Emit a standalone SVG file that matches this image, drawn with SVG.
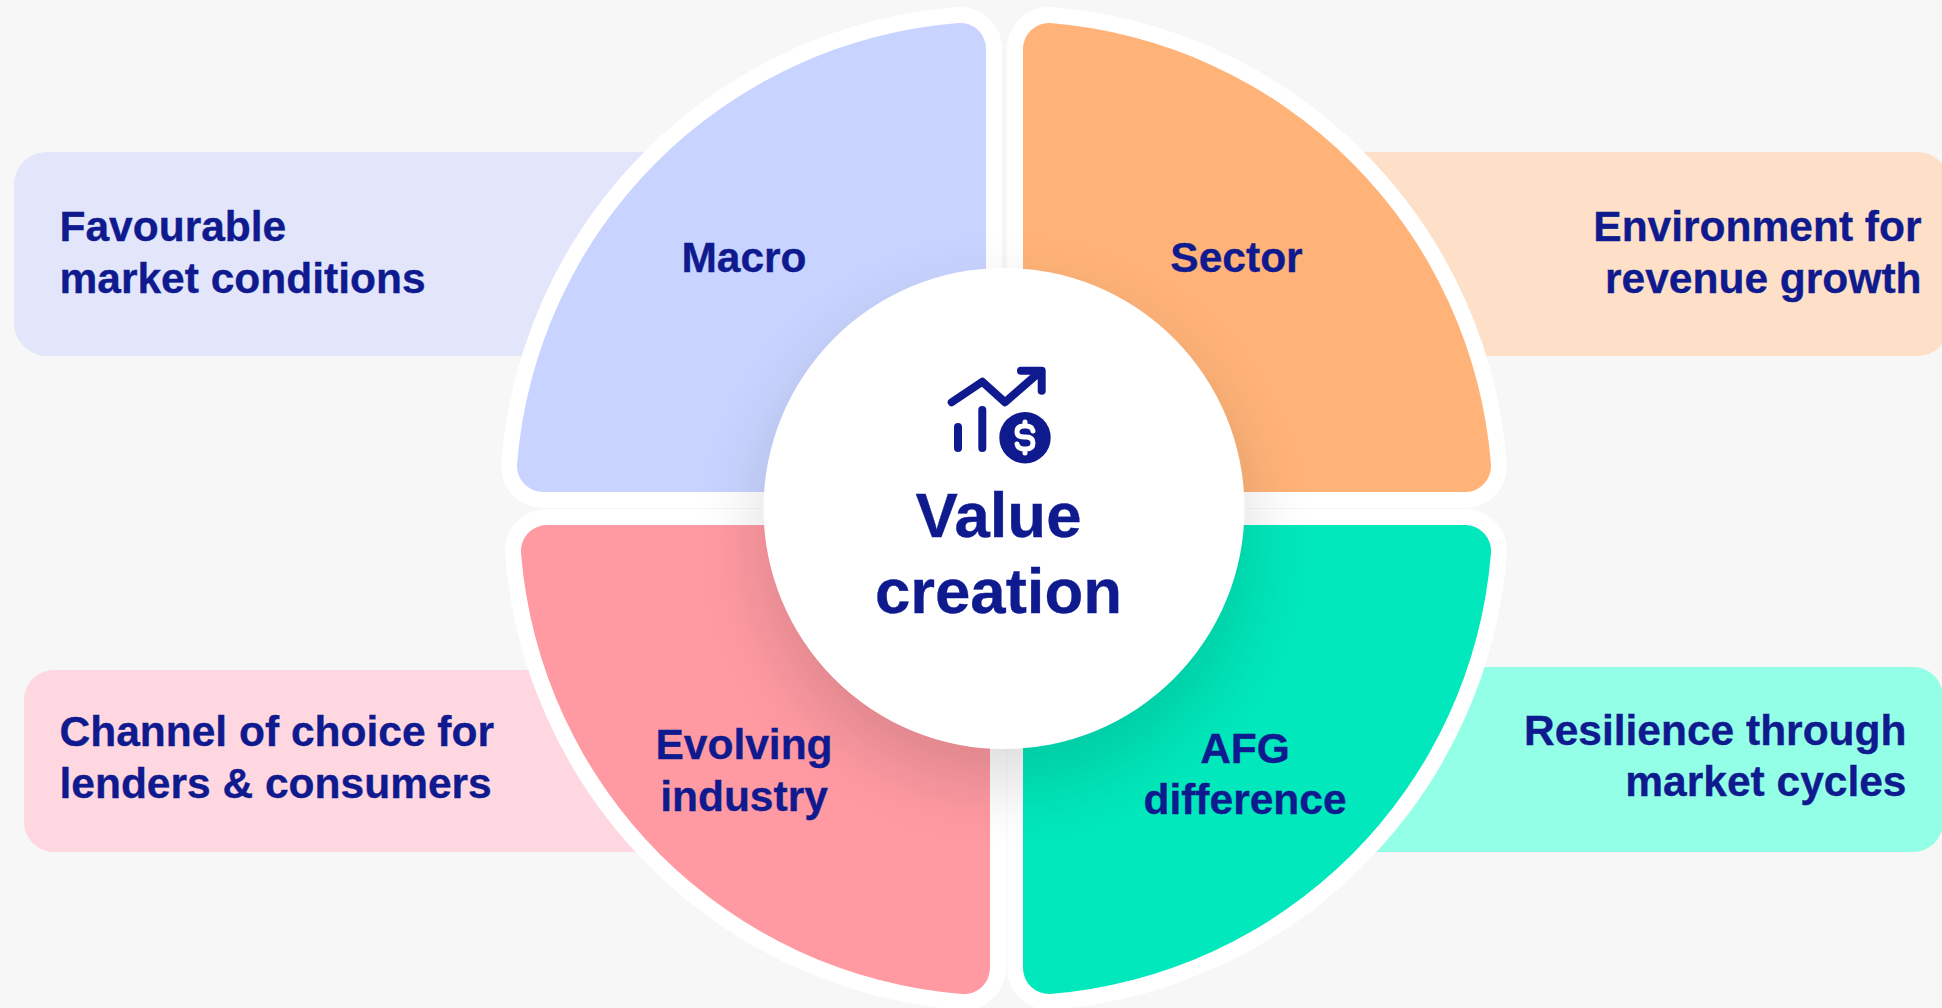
<svg xmlns="http://www.w3.org/2000/svg" width="1942" height="1008" viewBox="0 0 1942 1008">
<style>
text{font-family:"Liberation Sans",Arial,sans-serif;font-weight:700;fill:#0f1a8f;stroke:#0f1a8f;stroke-width:.35;font-size:42.5px}
.m{text-anchor:middle}
.e{text-anchor:end}
.big{font-size:63.5px}
.seg{stroke:#fff;stroke-width:32;stroke-linejoin:round;paint-order:stroke}
.ic{fill:none;stroke:#0f1a8f;stroke-width:8;stroke-linecap:round;stroke-linejoin:round}
</style>
<defs><filter id="blur" x="-40%" y="-40%" width="180%" height="180%"><feGaussianBlur stdDeviation="35"/></filter></defs>
<rect width="1942" height="1008" fill="#f7f7f7"/>
<g id="box-favourable"><rect x="14" y="152" width="800" height="204" rx="33" fill="#e3e5fa"/></g>
<g id="box-environment"><rect x="1200" y="152" width="748" height="204" rx="30" fill="#fee0c8"/></g>
<g id="box-channel"><rect x="24" y="670" width="800" height="182" rx="30" fill="#fed7e0"/></g>
<g id="box-resilience"><rect x="1200" y="667" width="743" height="185" rx="30" fill="#92ffe6"/></g>
<g id="seg-macro"><path class="seg" fill="#c8d4ff" d="M986 49A26 26 0 0 0 958 23A481 481 0 0 0 517 465A26 26 0 0 0 543 492H986Z"/></g>
<g id="seg-sector"><path class="seg" fill="#ffb378" d="M1023 49A26 26 0 0 1 1050 23A481 481 0 0 1 1491 465A26 26 0 0 1 1466 492H1023Z"/></g>
<g id="seg-evolving"><path class="seg" fill="#ff9aa2" d="M547 525H990V968A26 26 0 0 1 962 994A481 481 0 0 1 521 553A26 26 0 0 1 547 525Z"/></g>
<g id="seg-afg"><path class="seg" fill="#00e8bb" d="M1023 525H1466A26 26 0 0 1 1491 553A481 481 0 0 1 1050 994A26 26 0 0 1 1023 968Z"/></g>
<circle cx="1004" cy="540" r="245" fill="#000" opacity=".13" filter="url(#blur)"/>
<g id="center">
<circle cx="1004" cy="508.5" r="240.5" fill="#fff"/>
<g id="icon">
<path class="ic" d="M951.7 402.3L982.3 381.7L1005 402.3L1040 371.7M1021 370.7H1041.7V390.7M958 427V448M982.3 410V448"/>
<circle cx="1025" cy="437.7" r="25.7" fill="#0f1a8f"/>
<path fill="none" stroke="#fff" stroke-width="5" stroke-linecap="round" d="M1033 431Q1032 426 1026 426H1024Q1017 426 1017 432Q1017 437 1024 437H1026Q1033 437 1033 443Q1033 449 1026 449H1024Q1018 449 1017 444M1025 422V426M1025 449V453"/>
</g>
<text class="m big" x="998.5" y="537">Value</text>
<text class="m big" x="998.5" y="613">creation</text>
</g>
<g id="labels">
<text class="m" x="744" y="272">Macro</text>
<text class="m" x="1236.500" y="272">Sector</text>
<text class="m" x="744" y="759">Evolving</text>
<text class="m" x="744" y="811">industry</text>
<text class="m" x="1245" y="763">AFG</text>
<text class="m" x="1245" y="814">difference</text>
<text x="59.500" y="241">Favourable</text>
<text x="59.500" y="293">market conditions</text>
<text class="e" x="1921.500" y="241">Environment for</text>
<text class="e" x="1921.500" y="293">revenue growth</text>
<text x="59.500" y="746">Channel of choice for</text>
<text x="59.500" y="798">lenders &amp; consumers</text>
<text class="e" x="1906.500" y="745">Resilience through</text>
<text class="e" x="1906.500" y="796">market cycles</text>
</g>
</svg>
